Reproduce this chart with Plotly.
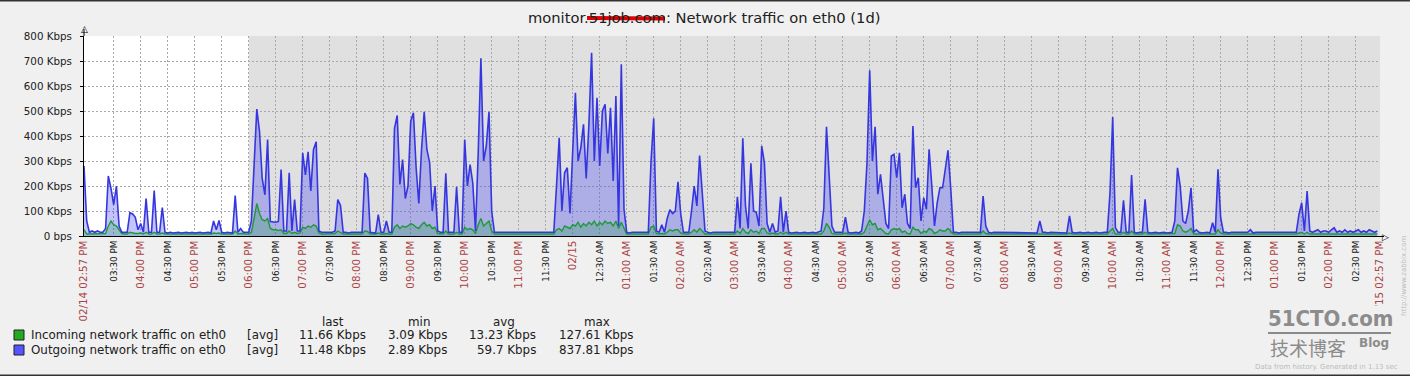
import plotly.graph_objects as go
import pandas as pd

TITLE = "monitor.51job.com: Network traffic on eth0 (1d)"
START = "2013-02-14 14:57"
END = "2013-02-15 14:57"
WORK_END = "2013-02-14 18:00"
SAMPLE_STEP = "3min"

# Outgoing traffic, Kbps, one row per hour (3-minute samples)
outgoing_rows = [
    [280, 60, 15, 20, 15, 20, 15, 15, 30, 240, 190, 125, 200, 40, 15, 15, 15, 93, 88, 75],
    [25, 50, 15, 150, 15, 15, 182, 15, 15, 114, 15, 12, 15, 12, 15, 15, 12, 15, 15, 12],
    [15, 12, 15, 15, 12, 15, 15, 12, 60, 25, 62, 15, 12, 15, 15, 12, 162, 15, 30, 15],
    [15, 15, 60, 306, 508, 419, 230, 165, 386, 58, 55, 55, 58, 266, 20, 20, 253, 20, 146, 20],
    [20, 333, 244, 337, 180, 346, 377, 20, 15, 15, 12, 15, 15, 20, 146, 122, 15, 15, 12, 15],
    [15, 15, 12, 15, 252, 230, 15, 15, 12, 86, 15, 15, 60, 15, 15, 431, 482, 206, 306, 150],
    [200, 459, 493, 275, 130, 344, 497, 346, 295, 100, 200, 20, 15, 15, 251, 15, 15, 15, 197, 15],
    [15, 386, 200, 286, 211, 20, 331, 711, 300, 360, 497, 100, 15, 15, 12, 15, 15, 12, 15, 15],
    [15, 12, 15, 15, 12, 15, 15, 12, 15, 15, 12, 15, 15, 12, 15, 200, 393, 100, 253, 273],
    [90, 340, 573, 300, 353, 447, 230, 447, 733, 300, 553, 280, 500, 527, 330, 513, 220, 560, 40, 687],
    [107, 15, 12, 15, 15, 12, 15, 15, 12, 15, 297, 471, 20, 15, 45, 15, 70, 105, 90, 100],
    [217, 90, 15, 15, 15, 100, 200, 120, 322, 170, 20, 15, 12, 15, 15, 12, 15, 15, 12, 15],
    [15, 15, 157, 30, 391, 120, 30, 291, 100, 95, 40, 360, 293, 50, 15, 50, 15, 20, 157, 15],
    [100, 15, 12, 15, 15, 12, 15, 15, 12, 15, 15, 12, 15, 20, 110, 437, 240, 40, 15, 15],
    [15, 15, 75, 15, 12, 15, 15, 12, 20, 100, 293, 663, 300, 437, 167, 247, 147, 50, 30, 320],
    [327, 233, 333, 113, 167, 50, 30, 440, 193, 233, 60, 153, 107, 347, 200, 40, 133, 193, 193, 280],
    [343, 193, 15, 15, 12, 15, 15, 12, 15, 15, 12, 15, 15, 160, 40, 15, 12, 15, 15, 12],
    [15, 12, 15, 15, 12, 15, 15, 12, 15, 15, 12, 15, 15, 12, 60, 15, 15, 12, 15, 15],
    [15, 12, 15, 15, 12, 80, 15, 12, 15, 15, 12, 15, 15, 12, 15, 15, 12, 15, 15, 15],
    [173, 476, 33, 15, 15, 143, 15, 15, 244, 15, 12, 15, 15, 147, 15, 12, 15, 15, 12, 15],
    [15, 12, 15, 15, 60, 273, 200, 60, 50, 100, 193, 15, 25, 15, 12, 15, 15, 12, 53, 15],
    [267, 73, 15, 15, 12, 15, 15, 12, 15, 15, 12, 15, 25, 12, 15, 15, 12, 15, 15, 12],
    [15, 12, 15, 15, 12, 15, 15, 12, 15, 15, 87, 133, 20, 180, 20, 15, 20, 25, 15, 20],
    [20, 15, 25, 33, 15, 20, 15, 25, 15, 20, 15, 20, 25, 15, 20, 15, 25, 20, 15, 20],
]

# Incoming traffic, Kbps, one row per hour (3-minute samples)
incoming_rows = [
    [25, 8, 8, 8, 8, 8, 8, 8, 10, 40, 60, 45, 40, 25, 10, 8, 8, 15, 12, 10],
    [10, 12, 8, 15, 8, 8, 15, 8, 8, 12, 8, 8, 8, 8, 8, 8, 8, 8, 8, 8],
    [8, 8, 8, 8, 8, 8, 8, 8, 12, 10, 12, 8, 8, 8, 8, 8, 20, 8, 10, 8],
    [8, 8, 15, 70, 130, 90, 65, 60, 70, 30, 25, 25, 22, 25, 10, 10, 20, 10, 15, 10],
    [12, 35, 30, 40, 35, 45, 40, 12, 8, 8, 8, 8, 8, 10, 20, 15, 8, 8, 8, 8],
    [8, 8, 8, 8, 20, 18, 8, 8, 8, 12, 8, 8, 10, 8, 8, 35, 45, 30, 40, 35],
    [40, 50, 45, 35, 30, 45, 55, 40, 45, 30, 35, 10, 8, 8, 20, 8, 8, 8, 15, 8],
    [8, 35, 25, 30, 25, 10, 45, 70, 40, 50, 60, 20, 8, 8, 8, 8, 8, 8, 8, 8],
    [8, 8, 8, 8, 8, 8, 8, 8, 8, 8, 8, 8, 8, 8, 8, 25, 30, 20, 40, 35],
    [30, 45, 40, 55, 35, 50, 40, 55, 45, 60, 40, 55, 45, 60, 50, 55, 40, 60, 30, 55],
    [30, 8, 8, 8, 8, 8, 8, 8, 8, 8, 35, 40, 10, 8, 10, 8, 15, 25, 20, 25],
    [25, 12, 8, 8, 8, 15, 25, 15, 30, 20, 8, 8, 8, 8, 8, 8, 8, 8, 8, 8],
    [8, 8, 20, 10, 30, 15, 10, 25, 15, 20, 10, 30, 30, 12, 8, 12, 8, 8, 15, 8],
    [15, 8, 8, 8, 8, 8, 8, 8, 8, 8, 8, 8, 8, 8, 20, 50, 35, 10, 8, 8],
    [8, 8, 12, 8, 8, 8, 8, 8, 8, 15, 40, 65, 45, 50, 25, 30, 20, 10, 8, 25],
    [30, 25, 30, 15, 20, 10, 8, 35, 25, 25, 10, 20, 15, 30, 25, 10, 15, 25, 20, 20],
    [30, 20, 8, 8, 8, 8, 8, 8, 8, 8, 8, 8, 8, 20, 10, 8, 8, 8, 8, 8],
    [8, 8, 8, 8, 8, 8, 8, 8, 8, 8, 8, 8, 8, 8, 10, 8, 8, 8, 8, 8],
    [8, 8, 8, 8, 8, 12, 8, 8, 8, 8, 8, 8, 8, 8, 8, 8, 8, 8, 8, 8],
    [20, 30, 8, 8, 8, 15, 8, 8, 20, 8, 8, 8, 8, 15, 8, 8, 8, 8, 8, 8],
    [8, 8, 8, 8, 10, 45, 40, 20, 15, 20, 30, 8, 8, 8, 8, 8, 8, 8, 10, 8],
    [25, 12, 8, 8, 8, 8, 8, 8, 8, 8, 8, 8, 10, 8, 8, 8, 8, 8, 8, 8],
    [8, 8, 8, 8, 8, 8, 8, 8, 8, 8, 12, 15, 8, 15, 8, 8, 8, 10, 8, 8],
    [8, 10, 8, 8, 8, 8, 8, 10, 8, 8, 8, 8, 10, 8, 8, 8, 10, 8, 8, 8],
]

outgoing_kbps = [v for row in outgoing_rows for v in row]
incoming_kbps = [v for row in incoming_rows for v in row]

y_tick_values = [0, 100, 200, 300, 400, 500, 600, 700, 800]
y_tick_labels = ["0 bps", "100 Kbps", "200 Kbps", "300 Kbps", "400 Kbps",
                 "500 Kbps", "600 Kbps", "700 Kbps", "800 Kbps"]

x_tick_labels = [
    "02/14 02:57 PM",
    "03:30 PM", "04:00 PM", "04:30 PM", "05:00 PM", "05:30 PM", "06:00 PM",
    "06:30 PM", "07:00 PM", "07:30 PM", "08:00 PM", "08:30 PM", "09:00 PM",
    "09:30 PM", "10:00 PM", "10:30 PM", "11:00 PM", "11:30 PM", "02/15",
    "12:30 AM", "01:00 AM", "01:30 AM", "02:00 AM", "02:30 AM", "03:00 AM",
    "03:30 AM", "04:00 AM", "04:30 AM", "05:00 AM", "05:30 AM", "06:00 AM",
    "06:30 AM", "07:00 AM", "07:30 AM", "08:00 AM", "08:30 AM", "09:00 AM",
    "09:30 AM", "10:00 AM", "10:30 AM", "11:00 AM", "11:30 AM", "12:00 PM",
    "12:30 PM", "01:00 PM", "01:30 PM", "02:00 PM", "02:30 PM",
    "02/15 02:57 PM",
]

legend_names = ["Incoming network traffic on eth0", "Outgoing network traffic on eth0"]
legend_func = ["[avg]", "[avg]"]
legend_last = ["11.66 Kbps", "11.48 Kbps"]
legend_min = ["3.09 Kbps", "2.89 Kbps"]
legend_avg = ["13.23 Kbps", "59.7 Kbps"]
legend_max = ["127.61 Kbps", "837.81 Kbps"]
legend_headers = ["last", "min", "avg", "max"]

COLOR_IN = "#1E9A3A"
COLOR_OUT = "#3636E0"
LEGEND_IN = "#22AA22"
LEGEND_OUT = "#5555FF"
RED = "#AA4444"
FONT = "DejaVu Sans"

times = pd.date_range(START, periods=len(outgoing_kbps), freq=SAMPLE_STEP)
tick_times = ([pd.Timestamp(START)]
              + list(pd.date_range("2013-02-14 15:30", periods=len(x_tick_labels) - 2, freq="30min"))
              + [pd.Timestamp(END)])


def fmt_tick(lab):
    main = ("/" in lab) or (":00 " in lab)
    if main:
        return f'<span style="color:{RED};font-size:10.3px">{lab}</span>'
    return f'<span style="font-size:8.8px">{lab}</span>'


x_tick_text = [fmt_tick(l) for l in x_tick_labels]

# pixel -> paper helpers (layout only)
PL, PT, PW, PH = 84, 36, 1296, 200


def px(x):
    return (x - PL) / PW


def py(y):
    return (PT + PH - y) / PH


fig = go.Figure()
fig.add_trace(go.Scatter(x=times, y=outgoing_kbps, mode="lines", line=dict(width=0, color=COLOR_OUT),
                         fill="tozeroy", fillcolor="rgba(60,60,250,0.30)", hoverinfo="skip"))
fig.add_trace(go.Scatter(x=times, y=incoming_kbps, mode="lines", line=dict(width=1.4, color=COLOR_IN),
                         fill="tozeroy", fillcolor="rgba(0,150,40,0.22)"))
fig.add_trace(go.Scatter(x=times, y=outgoing_kbps, mode="lines", line=dict(width=1.6, color=COLOR_OUT)))

shapes = [
    dict(type="rect", xref="x", yref="paper", x0=START, x1=WORK_END, y0=0, y1=1,
         fillcolor="white", line=dict(width=0), layer="below"),
    dict(type="line", xref="paper", yref="paper", x0=0, x1=0, y0=1, y1=py(29),
         line=dict(color="black", width=1)),
    dict(type="line", xref="paper", yref="paper", x0=px(79), x1=px(1384), y0=py(236.5), y1=py(236.5),
         line=dict(color="black", width=1)),
    # redaction scribble on title
    dict(type="line", xref="paper", yref="paper", x0=px(587), x1=px(665), y0=py(18), y1=py(18.5),
         line=dict(color="#E00000", width=4)),
    # top/bottom frame
    dict(type="line", xref="paper", yref="paper", x0=px(0), x1=px(1410), y0=py(0.5), y1=py(0.5),
         line=dict(color="#333333", width=2)),
    dict(type="line", xref="paper", yref="paper", x0=px(0), x1=px(1410), y0=py(375.5), y1=py(375.5),
         line=dict(color="#333333", width=2)),
    # watermark underline
    dict(type="line", xref="paper", yref="paper", x0=px(1268), x1=px(1391), y0=py(333), y1=py(333),
         line=dict(color="#8A8A8A", width=2)),
]

annotations = [
    dict(text=TITLE, x=px(704), y=py(18), xref="paper", yref="paper", showarrow=False,
         font=dict(family=FONT, size=14.7, color="#202020"), xanchor="center", yanchor="middle"),
    dict(text="△", x=px(84), y=py(29), xref="paper", yref="paper", showarrow=False,
         font=dict(family=FONT, size=9, color="black"), xanchor="center", yanchor="middle"),
    dict(text="▷", x=px(1386), y=py(237), xref="paper", yref="paper", showarrow=False,
         font=dict(family=FONT, size=9, color="black"), xanchor="center", yanchor="middle"),
]

leg_font = dict(family=FONT, size=11.9, color="#202020")
header_x = [333, 419, 504, 597]
for hx, h in zip(header_x, legend_headers):
    annotations.append(dict(text=h, x=px(hx), y=py(322), xref="paper", yref="paper", showarrow=False,
                            font=leg_font, xanchor="center", yanchor="middle", borderpad=0))

row_y = [335, 350]
sq_colors = [LEGEND_IN, LEGEND_OUT]
for i in range(2):
    yy = row_y[i]
    shapes.append(dict(type="rect", xref="paper", yref="paper", x0=px(14), x1=px(24),
                       y0=py(yy - 5), y1=py(yy + 5), fillcolor=sq_colors[i],
                       line=dict(color="#202020", width=1)))
    annotations.append(dict(text=legend_names[i], x=px(30), y=py(yy), xref="paper", yref="paper",
                            showarrow=False, font=leg_font, xanchor="left", yanchor="middle", borderpad=0))
    annotations.append(dict(text=legend_func[i], x=px(246), y=py(yy), xref="paper", yref="paper",
                            showarrow=False, font=leg_font, xanchor="left", yanchor="middle", borderpad=0))
    for col_x, vals in zip([367, 448, 537, 634], [legend_last, legend_min, legend_avg, legend_max]):
        annotations.append(dict(text=vals[i], x=px(col_x), y=py(yy), xref="paper", yref="paper",
                                showarrow=False, font=leg_font, xanchor="right", yanchor="middle",
                                borderpad=0))

# watermark / footer
annotations += [
    dict(text="<b>51CTO.com</b>", x=px(1330), y=py(318), xref="paper", yref="paper", showarrow=False,
         font=dict(family="DejaVu Sans Condensed", size=22, color="#8C8C8C"),
         xanchor="center", yanchor="middle", bgcolor="#F0F0F0", borderpad=0),
    dict(text="技术博客", x=px(1268), y=py(347), xref="paper", yref="paper", showarrow=False,
         font=dict(family="Noto Sans CJK SC", size=19, color="#8C8C8C"), xanchor="left", yanchor="middle"),
    dict(text="<b>Blog</b>", x=px(1391), y=py(343), xref="paper", yref="paper", showarrow=False,
         font=dict(family=FONT, size=12, color="#8C8C8C"), xanchor="right", yanchor="middle"),
    dict(text="Data from history. Generated in 1.13 sec", x=px(1400), y=py(367), xref="paper", yref="paper",
         showarrow=False, font=dict(family=FONT, size=7, color="#BBBBBB"), xanchor="right", yanchor="middle"),
    dict(text="http://www.zabbix.com", x=px(1404), y=py(276), xref="paper", yref="paper", showarrow=False,
         textangle=-90, font=dict(family=FONT, size=7, color="#BBBBBB"), xanchor="center", yanchor="middle"),
]

fig.update_layout(
    width=1410, height=376,
    margin=dict(l=PL, r=1410 - PL - PW, t=PT, b=376 - PT - PH, autoexpand=False),
    paper_bgcolor="#F0F0F0", plot_bgcolor="#E0E0E0",
    showlegend=False, hovermode=False,
    font=dict(family=FONT, color="#202020"),
    shapes=shapes, annotations=annotations,
    xaxis=dict(type="date", range=[START, END], tickmode="array", tickvals=tick_times,
               ticktext=x_tick_text, tickangle=-90, tickfont=dict(family=FONT, size=9, color="#202020"),
               showgrid=True, gridcolor="#A8A8A8", griddash="2px,2px", gridwidth=1,
               showline=True, linecolor="black", linewidth=1, ticks="", zeroline=False),
    yaxis=dict(range=[0, 800], tickmode="array", tickvals=y_tick_values, ticktext=y_tick_labels,
               tickfont=dict(family=FONT, size=10.3, color="#202020"),
               showgrid=True, gridcolor="#A8A8A8", griddash="2px,2px", gridwidth=1,
               showline=True, linecolor="black", linewidth=1, ticks="outside", ticklen=3,
               tickcolor="black", zeroline=False, ticklabelstandoff=6),
)

fig.write_html("out.html", config={"displayModeBar": False},
               post_script="document.body.style.margin='0px';document.body.style.overflow='hidden';")
